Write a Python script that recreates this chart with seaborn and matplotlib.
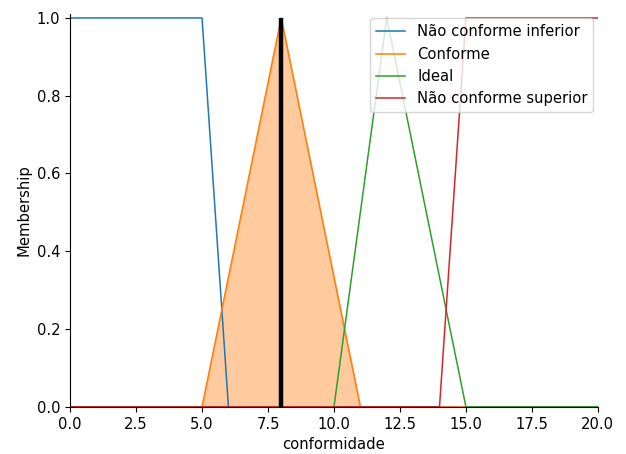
import numpy as np
import pandas as pd
import matplotlib
matplotlib.use("Agg")
import matplotlib.pyplot as plt
import seaborn as sns

# universe and membership values
universe = list(range(0, 21))
nao_conf_inf = [1, 1, 1, 1, 1, 1, 0, 0, 0, 0, 0, 0, 0, 0, 0, 0, 0, 0, 0, 0, 0]
conforme = [0, 0, 0, 0, 0, 0, 1/3, 2/3, 1, 2/3, 1/3, 0, 0, 0, 0, 0, 0, 0, 0, 0, 0]
ideal = [0, 0, 0, 0, 0, 0, 0, 0, 0, 0, 0, 0.5, 1, 2/3, 1/3, 0, 0, 0, 0, 0, 0]
nao_conf_sup = [0, 0, 0, 0, 0, 0, 0, 0, 0, 0, 0, 0, 0, 0, 0, 1, 1, 1, 1, 1, 1]
labels = ["Não conforme inferior", "Conforme", "Ideal", "Não conforme superior"]
result_value = 8.0
result_membership = 1.0

plt.rcParams["font.size"] = 10.6

series = [nao_conf_inf, conforme, ideal, nao_conf_sup]
colors = ["tab:blue", "tab:orange", "tab:green", "tab:red"]

fig = plt.figure(figsize=(6.26, 4.54), dpi=100)
ax = fig.add_axes([0.112, 0.104, 0.843, 0.865])

for vals, lab, col in zip(series, labels, colors):
    sns.lineplot(x=universe, y=vals, ax=ax, label=lab, color=col, linewidth=1.1)

# activated set
ax.fill_between(universe, 0, conforme, color="tab:orange", alpha=0.4)
ax.vlines(result_value, 0, result_membership, color="k", linewidth=3.2, zorder=9)

ax.set_xlim(0, 20)
ax.set_ylim(0, 1.01)
ax.set_xlabel("conformidade")
ax.set_ylabel("Membership")
ax.legend(loc="upper right", borderaxespad=0.3)
sns.despine(ax=ax)

plt.savefig("out.png", dpi=100)
